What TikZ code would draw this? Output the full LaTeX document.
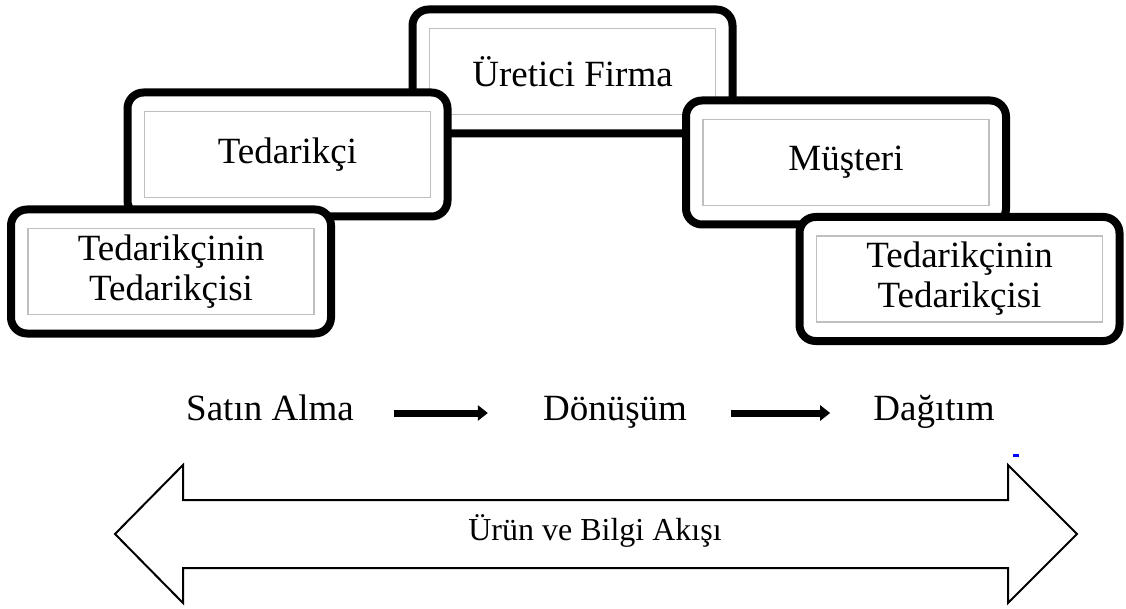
\documentclass[tikz,border=0pt]{standalone}
\usepackage{fontspec}
\setmainfont{Liberation Serif}
\usepackage{tikz}
\usetikzlibrary{arrows.meta, positioning}
\newcommand{\bigtxt}{\fontsize{37}{40}\selectfont}
\newcommand{\flowtxt}{\fontsize{32}{36}\selectfont}

\begin{document}
\begin{tikzpicture}[x=1pt, y=-1pt,
    stagebox/.style={draw, line width=8, rounded corners=16, fill=white,
      minimum width=320, minimum height=124, align=center, font=\bigtxt,
      path picture={\draw[black!25, line width=1.3, sharp corners]
        ([shift={(17,19)}]path picture bounding box.north west) rectangle
        ([shift={(-17,-19)}]path picture bounding box.south east);}},
    phase/.style={inner sep=0, font=\bigtxt, anchor=base},
    step arrow/.style={line width=7, -{Triangle[length=10pt, width=15pt]}}]
      \useasboundingbox (0,0) rectangle (1126,609);
      % chain boxes, back to front
      \node[stagebox] (firm) at (572.5,71.5) {\"Uretici Firma};
      \node[stagebox] (supplier) at (287.5,154.5) {Tedarik\c{c}i};
      \node[stagebox] (customer) at (846,162.5) {M\"u\c{s}teri};
      \node[stagebox] (subsupL) at (171,271.5) {Tedarik\c{c}inin\\Tedarik\c{c}isi};
      \node[stagebox] (subsupR) at (959.5,279) {Tedarik\c{c}inin\\Tedarik\c{c}isi};
      % phases
      \node[phase] (buy) at (270,420) {Sat\i n Alma};
      \node[phase] (make) at (615,420) {D\"on\"u\c{s}\"um};
      \node[phase] (ship) at (934,420) {Da\u{g}\i t\i m};
      \draw[step arrow, shorten <=40, shorten >=55] ([yshift=7]buy.base east) -- ([yshift=7]make.base west);
      \draw[step arrow, shorten <=44, shorten >=43] ([yshift=7]make.base east) -- ([yshift=7]ship.base west);
      % product and information flow
      \draw[line width=2, line join=miter] (115,534) -- (183,465) -- (183,500) -- (1008,500) -- (1008,465)
        -- (1077,534) -- (1008,603) -- (1008,568) -- (183,568) -- (183,603) -- cycle;
      \node[font=\flowtxt, inner sep=0, anchor=base] (flow) at (595,540) {\"Ur\"un ve Bilgi Ak\i\c{s}\i};
      \fill[blue] (1013,454) rectangle (1019,457);
    \end{tikzpicture}
\end{document}
